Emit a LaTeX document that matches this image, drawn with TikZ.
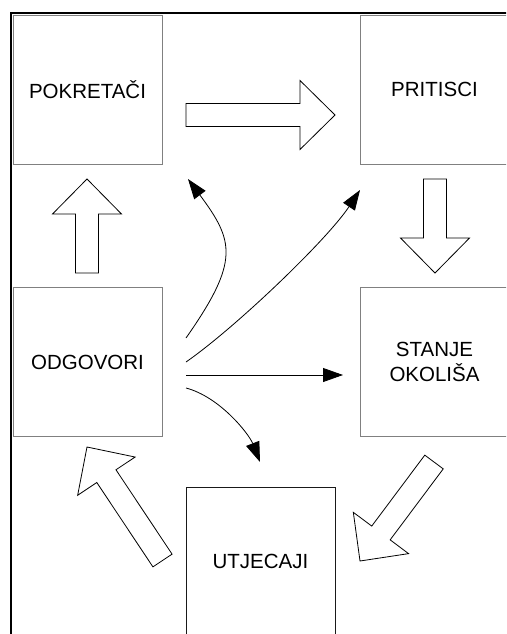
\documentclass[tikz,border=0pt]{standalone}
\usepackage{fontspec}
\setmainfont{Liberation Sans}
\usetikzlibrary{calc,arrows.meta}

% wide hollow arrow from #1 to its tip #2
\newcommand{\bigarrow}[2]{%
    \coordinate (hb) at ($(#2)!35pt!(#1)$);
    \draw[hollow] ($(#1)!11.5pt!90:(#2)$) -- ($(hb)!11.5pt!90:(#2)$)
        -- ($(hb)!34.5pt!90:(#2)$) -- (#2) -- ($(hb)!34.5pt!-90:(#2)$)
        -- ($(hb)!11.5pt!-90:(#2)$) -- ($(#1)!11.5pt!-90:(#2)$) -- cycle;
}

\begin{document}
\begin{tikzpicture}[x=1pt,y=-1pt,
        every node/.style={font=\fontsize{20.5}{25}\selectfont},
        box/.style={draw=black!50,line width=0.9pt,minimum width=149pt,minimum height=149pt,inner sep=0pt,align=center},
        hollow/.style={draw=black,line width=0.8pt,fill=white,line join=miter},
        thin/.style={line width=0.8pt,-{Triangle[length=20pt,width=14pt]}}]
        \useasboundingbox (0,0) rectangle (506,634);
        \clip (0,0) rectangle (506,634);
        \draw[line width=2.2pt] (11,700) -- (11,13) -- (600,13);
        % the five stages
        \node[box] (pokretaci) at (87.5,89.5) {POKRETAČI};
        \node[box] (pritisci) at (434.5,89.5) {PRITISCI};
        \node[box] (odgovori) at (87.5,362) {ODGOVORI};
        \node[box] (stanje) at (434.5,362) {STANJE\\OKOLIŠA};
        \node[box,draw=black!90] (utjecaji) at (260.5,561.5) {UTJECAJI};
        % the cycle
        \coordinate (pk1) at (186,115);  \coordinate (pk2) at (335,115);
        \coordinate (pr1) at (435,179);  \coordinate (pr2) at (435,273);
        \coordinate (st1) at (434,462);  \coordinate (st2) at (360,561);
        \coordinate (ut1) at (162.5,560.5); \coordinate (ut2) at (87,447);
        \coordinate (od1) at (87,273);   \coordinate (od2) at (87,179);
        \bigarrow{pk1}{pk2}
        \bigarrow{pr1}{pr2}
        \bigarrow{st1}{st2}
        \bigarrow{ut1}{ut2}
        \bigarrow{od1}{od2}
        % responses act on every stage
        \coordinate (r1) at (186,338); \coordinate (t1) at (188,179);
        \coordinate (r2) at (186,362); \coordinate (t2) at (360,190);
        \coordinate (r3) at (186,375); \coordinate (t3) at (343,375);
        \coordinate (r4) at (186,388); \coordinate (t4) at (260,462);
        \draw[thin] (r1) .. controls (240,261) and (234,241) .. (t1);
        \draw[thin] (r2) .. controls (235,328) and (327,240) .. (t2);
        \draw[thin] (r3) -- (t3);
        \draw[thin] (r4) .. controls (220,397) and (249,434) .. (t4);
\end{tikzpicture}
\end{document}
